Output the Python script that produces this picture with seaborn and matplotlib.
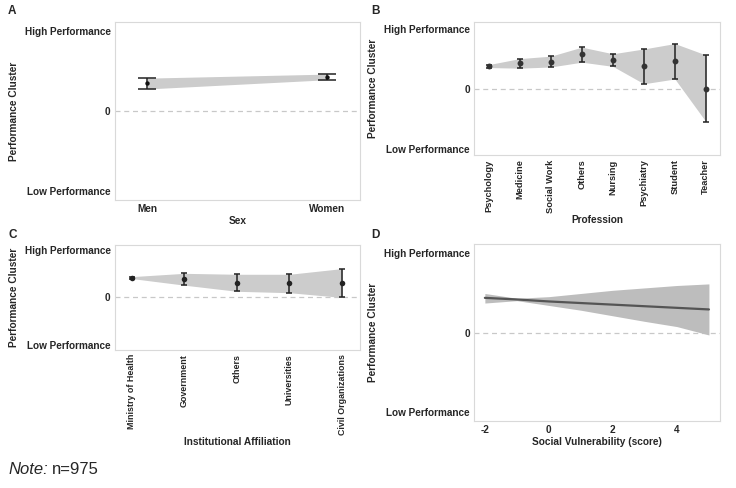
import numpy as np
import pandas as pd
import matplotlib
matplotlib.use("Agg")
import matplotlib.pyplot as plt
import seaborn as sns

# Panel A - sex
sex_labels = ["Men", "Women"]
sex_mean = [0.35, 0.43]
sex_low = [0.275, 0.39]
sex_high = [0.41, 0.46]

# Panel B - profession
prof_labels = ["Psychology", "Medicine", "Social Work", "Others", "Nursing",
               "Psychiatry", "Student", "Teacher"]
prof_mean = [0.38, 0.42, 0.45, 0.57, 0.475, 0.37, 0.46, 0.0]
prof_low = [0.35, 0.34, 0.36, 0.44, 0.37, 0.08, 0.16, -0.55]
prof_high = [0.40, 0.50, 0.54, 0.69, 0.58, 0.66, 0.75, 0.56]

# Panel C - institutional affiliation
inst_labels = ["Ministry of Health", "Government", "Others", "Universities",
               "Civil Organizations"]
inst_mean = [0.42, 0.39, 0.31, 0.30, 0.31]
inst_low = [0.40, 0.26, 0.13, 0.10, 0.0]
inst_high = [0.44, 0.51, 0.49, 0.49, 0.61]

# Panel D - social vulnerability
vuln_x = [-2, -1, 0, 1, 2, 3, 4, 5]
vuln_fit = [0.435, 0.415, 0.39, 0.37, 0.35, 0.33, 0.31, 0.29]
vuln_low = [0.37, 0.40, 0.34, 0.28, 0.21, 0.14, 0.075, -0.03]
vuln_high = [0.49, 0.43, 0.45, 0.49, 0.53, 0.56, 0.59, 0.61]

y_ticks = [-1, 0, 1]
y_ticklabels = ["Low Performance", "0", "High Performance"]

sns.set_theme(style="white")
plt.rcParams["font.family"] = ["Liberation Sans", "DejaVu Sans"]
plt.rcParams["axes.unicode_minus"] = False

fig = plt.figure(figsize=(7.36, 4.88), dpi=100)

TICK_FS = 7.2
LAB_FS = 7.3


def style_axes(ax, xlabel, xtick_fs=TICK_FS):
    ax.set_ylim(-1.11, 1.11)
    ax.set_yticks(y_ticks)
    ax.set_yticklabels(y_ticklabels, fontweight="bold", fontsize=TICK_FS)
    ax.axhline(0, color="#c8c8c8", lw=0.9, ls=(0, (4, 3)), zorder=0)
    ax.set_ylabel("Performance Cluster", fontweight="bold", fontsize=LAB_FS, labelpad=4)
    ax.set_xlabel(xlabel, fontweight="bold", fontsize=LAB_FS, labelpad=1.5)
    ax.tick_params(length=0, pad=3)
    for s in ax.spines.values():
        s.set_color("#d9d9d9")
        s.set_linewidth(0.8)
    for t in ax.get_xticklabels():
        t.set_fontweight("bold")
        t.set_fontsize(xtick_fs)


def cat_panel(ax, labels, mean, low, high, capsize, ms, color, rotate):
    df = pd.DataFrame({"label": labels, "mean": mean, "low": low, "high": high})
    df["pos"] = np.arange(len(df))
    ax.fill_between(df["pos"], df["low"], df["high"], color="#cccccc", lw=0, zorder=1)
    ax.errorbar(df["pos"], df["mean"],
                yerr=[df["mean"] - df["low"], df["high"] - df["mean"]],
                fmt="none", ecolor="#222222", elinewidth=1.1, capsize=capsize,
                capthick=1.1, zorder=2)
    sns.scatterplot(data=df, x="pos", y="mean", ax=ax, color=color, s=ms,
                    edgecolor=color, linewidth=0, zorder=3)
    ax.set_xticks(df["pos"])
    ax.set_xticklabels(df["label"], rotation=90 if rotate else 0)


# A
axA = fig.add_axes([0.156, 0.590, 0.333, 0.365])
cat_panel(axA, sex_labels, sex_mean, sex_low, sex_high, 6.5, 10, "#111111", False)
axA.set_xlim(-0.18, 1.18)
style_axes(axA, "Sex")

# B
axB = fig.add_axes([0.644, 0.682, 0.334, 0.273])
cat_panel(axB, prof_labels, prof_mean, prof_low, prof_high, 2, 18, "#333333", True)
axB.set_xlim(-0.48, 7.45)
style_axes(axB, "Profession", xtick_fs=6.7)

# C
axC = fig.add_axes([0.156, 0.283, 0.333, 0.215])
cat_panel(axC, inst_labels, inst_mean, inst_low, inst_high, 2.5, 16, "#222222", True)
axC.set_xlim(-0.32, 4.34)
style_axes(axC, "Institutional Affiliation", xtick_fs=6.4)

# D
axD = fig.add_axes([0.644, 0.137, 0.334, 0.363])
dfD = pd.DataFrame({"x": vuln_x, "fit": vuln_fit, "low": vuln_low, "high": vuln_high})
axD.fill_between(dfD["x"], dfD["low"], dfD["high"], color="#bdbdbd", lw=0, zorder=1)
sns.lineplot(data=dfD, x="x", y="fit", ax=axD, color="#555555", lw=1.6, zorder=2)
axD.set_xlim(-2.34, 5.34)
axD.set_xticks([-2, 0, 2, 4])
style_axes(axD, "Social Vulnerability (score)")

for lab, x, y in [("A", 0.011, 0.978), ("B", 0.505, 0.978),
                  ("C", 0.011, 0.518), ("D", 0.505, 0.518)]:
    fig.text(x, y, lab, fontsize=8.5, fontweight="bold", va="center", ha="left")

note = fig.text(0.011, 0.037, "Note:", fontsize=12, style="italic", va="center", ha="left")
axA.annotate("n=975", xy=(1, 0.5), xycoords=note, xytext=(3, 0),
             textcoords="offset points", fontsize=12, va="center", ha="left",
             annotation_clip=False)

fig.savefig("out.png", dpi=100)
